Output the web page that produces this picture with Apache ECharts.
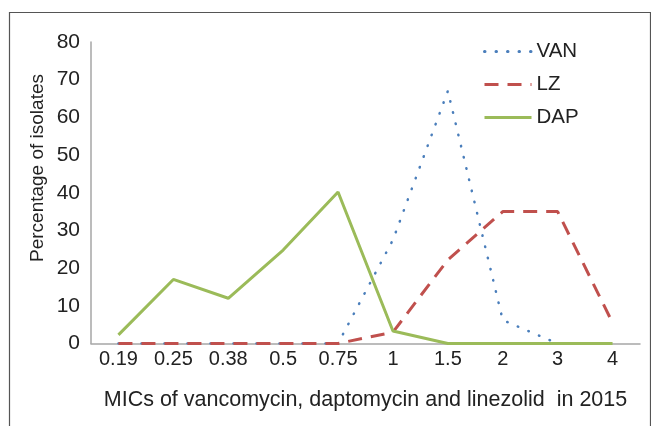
<!DOCTYPE html>
<html>
<head>
<meta charset="utf-8">
<script src="https://cdn.jsdelivr.net/npm/echarts@6/dist/echarts.min.js"></script>
<style>html,body{margin:0;padding:0;background:#fff}#c{width:651px;height:426px}</style>
</head>
<body>
<div id="c"></div>
<script>
const categories = ['0.19','0.25','0.38','0.5','0.75','1','1.5','2','3','4'];
const van = [0, 0, 0, 0, 0, 27.5, 67, 6.2, 0, 0];
const lz  = [0, 0, 0, 0, 0, 3, 22.2, 35, 35, 5.5];
const dap = [2.3, 17, 12, 24.8, 40.2, 3.3, 0, 0, 0, 0];
const yTicks = [0, 10, 20, 30, 40, 50, 60, 70, 80];
const seriesNames = ['VAN', 'LZ', 'DAP'];
const xTitle = 'MICs of vancomycin, daptomycin and linezolid  in 2015';
const yTitle = 'Percentage of isolates';

const font = 'Liberation Sans, Arial, sans-serif';
const chart = echarts.init(document.getElementById('c'), null, {renderer: 'canvas'});
chart.setOption({
  animation: false,
  backgroundColor: '#fff',
  graphic: [
    {type: 'rect', shape: {x: 9.5, y: 12.5, width: 641, height: 430},
     style: {fill: 'none', stroke: '#555', lineWidth: 1.2}, silent: true},
    {type: 'text', x: 38, y: 168, rotation: Math.PI / 2,
     style: {text: yTitle, font: '19px ' + font, fill: '#222', align: 'center', verticalAlign: 'middle'}}
  ],
  grid: {left: 91, right: 11, top: 42, bottom: 82.5},
  legend: {
    orient: 'vertical', left: 478, top: 36, itemGap: 12, itemWidth: 47, itemHeight: 20,
    textStyle: {fontFamily: font, fontSize: 20.5, color: '#222'},
    itemStyle: {opacity: 0},
    lineStyle: {width: 3},
    data: seriesNames
  },
  xAxis: {
    type: 'category', data: categories, boundaryGap: true,
    axisLine: {lineStyle: {color: '#a6a6a6', width: 1.5}},
    axisTick: {show: false},
    axisLabel: {fontFamily: font, fontSize: 20, color: '#222', margin: 6, interval: 0},
    name: xTitle, nameLocation: 'middle', nameGap: 46,
    nameTextStyle: {fontFamily: font, fontSize: 21.5, color: '#222'}
  },
  yAxis: {
    type: 'value', min: 0, max: 80, interval: 10,
    axisLine: {show: true, lineStyle: {color: '#a6a6a6', width: 1.5}},
    axisTick: {show: false},
    splitLine: {show: false},
    axisLabel: {fontFamily: font, fontSize: 21, color: '#222', margin: 11,
      formatter: v => yTicks.includes(v) ? String(v) : ''}
  },
  series: [
    {name: 'VAN', type: 'line', data: van, symbol: 'none', z: 2,
     itemStyle: {color: '#4a7ebb'},
     lineStyle: {color: '#4a7ebb', width: 2.5, type: [0.5, 11], cap: 'round'}},
    {name: 'LZ', type: 'line', data: lz, symbol: 'none', z: 3,
     itemStyle: {color: '#c0504d'},
     lineStyle: {color: '#c0504d', width: 3, type: [14, 9], cap: 'butt'}},
    {name: 'DAP', type: 'line', data: dap, symbol: 'none', z: 4,
     itemStyle: {color: '#9bbb59'},
     lineStyle: {color: '#9bbb59', width: 3}}
  ]
});
</script>
</body>
</html>
